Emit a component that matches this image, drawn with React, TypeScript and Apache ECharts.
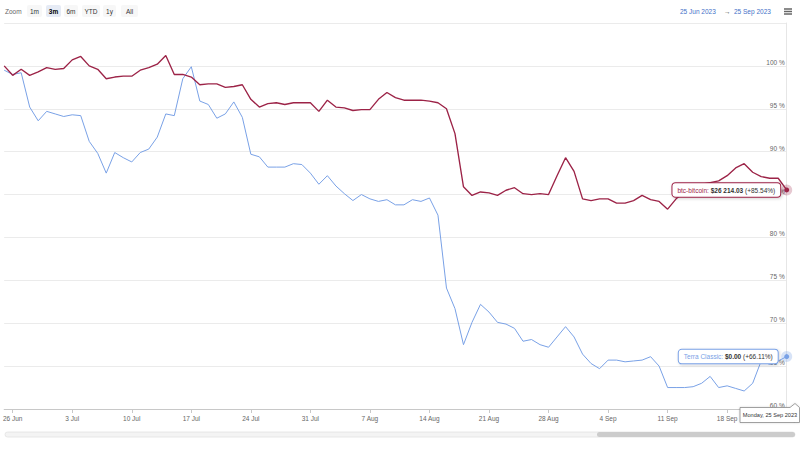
import React, { useEffect, useRef } from "react";
import * as echarts from "echarts";

// ---- data ----
const startDay = Date.UTC(2023, 5, 25); // 25 Jun 2023, first daily point
const btcValues = [
  100.0, 98.9, 99.6, 98.9, 99.3, 99.8, 99.6, 99.7, 100.7, 101.1,
  100.0, 99.6, 98.5, 98.7, 98.8, 98.8, 99.5, 99.8, 100.2, 101.2,
  99.0, 99.0, 98.7, 97.8, 97.9, 97.9, 97.5, 97.6, 97.8, 96.1,
  95.2, 95.6, 95.7, 95.5, 95.7, 95.7, 95.7, 94.7, 96.0, 95.2,
  95.1, 94.8, 94.9, 94.9, 96.1, 96.9, 96.3, 96.0, 96.0, 96.0,
  95.9, 95.7, 95.0, 92.1, 85.9, 84.9, 85.3, 85.2, 84.9, 85.5,
  85.8, 85.1, 85.0, 85.1, 85.0, 87.2, 89.3, 87.7, 84.5, 84.3,
  84.5, 84.5, 84.0, 84.0, 84.3, 84.9, 84.4, 84.2, 83.3, 84.5,
  85.3, 85.9, 86.2, 86.4, 86.6, 87.2, 88.1, 88.6, 87.6, 87.1,
  86.9, 86.9, 85.54,
];
const terraValues = [
  99.5, 99.0, 99.2, 95.2, 93.6, 94.7, 94.4, 94.1, 94.3, 94.2,
  91.2, 89.8, 87.5, 89.9, 89.3, 88.8, 89.9, 90.3, 91.7, 94.4,
  94.2, 98.5, 99.9, 95.9, 95.5, 93.9, 94.4, 95.8, 94.0, 89.7,
  89.4, 88.2, 88.2, 88.2, 88.6, 88.5, 87.5, 86.2, 87.2, 86.0,
  85.1, 84.3, 85.0, 84.5, 84.2, 84.4, 83.8, 83.8, 84.4, 84.2,
  84.6, 82.6, 74.1, 71.7, 67.5, 70.1, 72.2, 71.3, 70.1, 69.9,
  69.4, 67.9, 68.1, 67.5, 67.2, 68.4, 69.6, 68.4, 66.4, 65.3,
  64.7, 65.7, 65.7, 65.5, 65.6, 65.7, 66.1, 65.0, 62.5, 62.5,
  62.5, 62.6, 63.0, 63.8, 62.5, 62.7, 62.4, 62.1, 63.0, 65.6,
  65.2, 65.6, 66.11,
];
const dates = btcValues.map((_, i) =>
  new Date(startDay + i * 86400000).toISOString().slice(0, 10)
);
const btcName = "btc-bitcoin";
const terraName = "Terra Classic";
const btcLastPrice = "$26 214.03";
const terraLastPrice = "$0.00";
const zoomButtons = ["1m", "3m", "6m", "YTD", "1y", "All"];
const selectedZoom = "3m";
const rangeFrom = "25 Jun 2023";
const rangeTo = "25 Sep 2023";
const hoverDateLabel = "Monday, 25 Sep 2023";
const yMin = 60;
const yMax = 105;
const yStep = 5;
const months = ["Jan", "Feb", "Mar", "Apr", "May", "Jun", "Jul", "Aug", "Sep", "Oct", "Nov", "Dec"];

const FONT = "'Liberation Sans', Arial, sans-serif";
const RED = "#9c2347";
const BLUE = "#79a1e6";
const FS = 6.5;

function endMarker(color: string, halo: string, name: string, price: string, values: number[], dist: number) {
  const last = values.length - 1;
  const coord = [dates[last], values[last]];
  const pct = `(+${values[last].toFixed(2)}%)`;
  return {
    silent: true,
    animation: false,
    data: [
      {
        coord,
        symbol: "circle",
        symbolSize: 11,
        itemStyle: { color: halo },
        label: { show: false },
      },
      {
        coord,
        symbol: "circle",
        symbolSize: 5,
        itemStyle: { color },
        label: {
          show: true,
          position: "left",
          distance: dist,
          formatter: `{n|${name}: }{p|${price}}{c| ${pct}}`,
          backgroundColor: "#ffffff",
          borderColor: color,
          borderWidth: 1,
          borderRadius: 3,
          padding: [3.5, 5, 3, 5],
          shadowColor: "rgba(0,0,0,0.18)",
          shadowBlur: 3,
          shadowOffsetX: 1,
          shadowOffsetY: 1,
          rich: {
            n: { color, fontSize: FS, fontFamily: FONT },
            p: { color: "#333333", fontSize: FS, fontWeight: "bold", fontFamily: FONT },
            c: { color: "#333333", fontSize: FS, fontFamily: FONT },
          },
        },
      },
    ],
  };
}

function buildGraphics() {
  const els: any[] = [];
  els.push({
    type: "text",
    left: 5,
    top: 7.5,
    style: { text: "Zoom", fill: "#666666", font: `${FS}px ${FONT}` },
  });
  const btnX = [27, 46, 64, 82, 103, 121];
  const btnW = [15, 15, 14, 18, 13, 17];
  zoomButtons.forEach((b, i) => {
    const sel = b === selectedZoom;
    els.push({
      type: "rect",
      shape: { x: btnX[i], y: 5, width: btnW[i], height: 12, r: 2 },
      style: { fill: sel ? "#e6ebf5" : "#f7f7f7" },
    });
    els.push({
      type: "text",
      x: btnX[i] + btnW[i] / 2,
      y: 11,
      style: {
        text: b,
        fill: sel ? "#000000" : "#333333",
        font: `${sel ? "bold " : ""}${FS}px ${FONT}`,
        align: "center",
        verticalAlign: "middle",
      },
    });
  });
  els.push({
    type: "text",
    x: 680,
    y: 11,
    style: { text: rangeFrom, fill: "#4470c8", font: `${FS}px ${FONT}`, verticalAlign: "middle" },
  });
  els.push({
    type: "text",
    x: 724,
    y: 11,
    style: { text: "→", fill: "#444444", font: `${FS}px ${FONT}`, verticalAlign: "middle" },
  });
  els.push({
    type: "text",
    x: 734,
    y: 11,
    style: { text: rangeTo, fill: "#4470c8", font: `${FS}px ${FONT}`, verticalAlign: "middle" },
  });
  [9, 11.5, 14].forEach((yy) => {
    els.push({
      type: "line",
      shape: { x1: 784, y1: yy, x2: 792, y2: yy },
      style: { stroke: "#666666", lineWidth: 1.5 },
    });
  });
  // scrollbar
  els.push({
    type: "rect",
    shape: { x: 5, y: 432, width: 790, height: 5, r: 2.5 },
    style: { fill: "#f4f4f4", stroke: "#e2e2e2", lineWidth: 0.8 },
  });
  els.push({
    type: "rect",
    shape: { x: 597, y: 432, width: 198, height: 5, r: 2.5 },
    style: { fill: "#cccccc" },
  });
  // hover date label
  els.push({
    type: "polygon",
    shape: {
      points: [
        [740, 407.5], [790, 407.5], [795, 403.5], [799.5, 407.5], [799.5, 422.5], [740, 422.5],
      ],
    },
    style: { fill: "#ffffff", stroke: "#8a8a8a", lineWidth: 0.8, shadowColor: "rgba(0,0,0,0.15)", shadowBlur: 2 },
    z: 100,
  });
  els.push({
    type: "text",
    x: 770,
    y: 415,
    style: {
      text: hoverDateLabel,
      fill: "#333333",
      font: `5.6px ${FONT}`,
      align: "center",
      verticalAlign: "middle",
    },
    z: 101,
  });
  return els;
}

export default function App() {
  const ref = useRef<HTMLDivElement>(null);
  useEffect(() => {
    if (!ref.current) return;
    const chart = echarts.init(ref.current, undefined, { renderer: "svg" });
    const tickFn = (i: number) => i % 7 === 1;
    chart.setOption({
      animation: false,
      backgroundColor: "#ffffff",
      grid: { left: 4, right: 6, top: 23, bottom: 41, containLabel: false },
      xAxis: {
        type: "category",
        data: dates,
        boundaryGap: false,
        axisLine: { lineStyle: { color: "#c8c8c8", width: 1 } },
        axisTick: { interval: tickFn, length: 4, lineStyle: { color: "#c8c8c8" } },
        axisLabel: {
          interval: tickFn,
          margin: 6,
          color: "#666666",
          fontSize: FS,
          fontFamily: FONT,
          formatter: (v: string) => {
            const d = new Date(v + "T00:00:00Z");
            return `${d.getUTCDate()} ${months[d.getUTCMonth()]}`;
          },
        },
        splitLine: { show: false },
      },
      yAxis: {
        type: "value",
        position: "right",
        min: yMin,
        max: yMax,
        interval: yStep,
        axisLine: { show: true, lineStyle: { color: "#e6e6e6" } },
        axisTick: { show: false },
        splitLine: { lineStyle: { color: "#ebebeb", width: 1 } },
        axisLabel: {
          inside: true,
          margin: 2,
          showMaxLabel: false,
          verticalAlign: "bottom",
          color: "#666666",
          fontSize: FS,
          fontFamily: FONT,
          formatter: (v: number) => `${v} %`,
        },
      },
      series: [
        {
          name: terraName,
          type: "line",
          data: terraValues,
          showSymbol: false,
          symbol: "none",
          lineStyle: { color: BLUE, width: 1 },
          itemStyle: { color: BLUE },
          z: 2,
          markPoint: endMarker(BLUE, "rgba(121,161,230,0.3)", terraName, terraLastPrice, terraValues, 6.5),
        },
        {
          name: btcName,
          type: "line",
          data: btcValues,
          showSymbol: false,
          symbol: "none",
          lineStyle: { color: RED, width: 1.35 },
          itemStyle: { color: RED },
          z: 3,
          markPoint: endMarker(RED, "rgba(156,35,71,0.25)", btcName, btcLastPrice, btcValues, 4),
        },
      ],
      graphic: buildGraphics(),
    });
    return () => chart.dispose();
  }, []);
  return (
    <div
      ref={ref}
      style={{ position: "fixed", left: 0, top: 0, width: 800, height: 450, background: "#fff" }}
    />
  );
}
